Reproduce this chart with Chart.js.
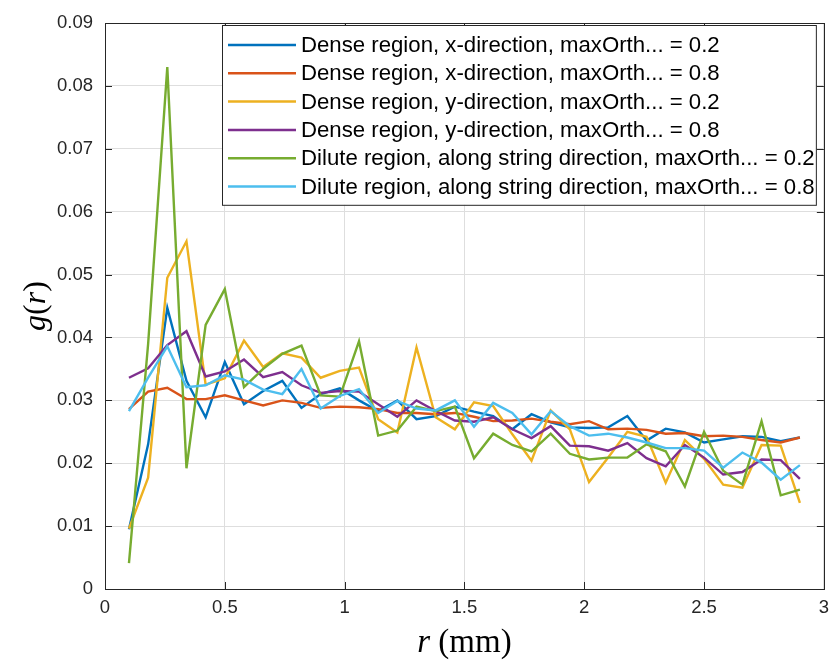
<!DOCTYPE html>
<html>
<head>
<meta charset="utf-8">
<script src="https://cdn.jsdelivr.net/npm/chart.js@4"></script>
<style>
  html, body { margin: 0; padding: 0; background: #fff; }
  #wrap { width: 837px; height: 661px; }
</style>
</head>
<body>
<div id="wrap"><canvas id="gr"></canvas></div>
<script>
// r values (mm) of the bins
const rValues = [0.1, 0.18, 0.26, 0.34, 0.42, 0.5, 0.58, 0.66, 0.74, 0.82, 0.9, 0.98,
  1.06, 1.14, 1.22, 1.3, 1.38, 1.46, 1.54, 1.62, 1.7, 1.78, 1.86, 1.94,
  2.02, 2.1, 2.18, 2.26, 2.34, 2.42, 2.5, 2.58, 2.66, 2.74, 2.82, 2.9];

// g(r) per case
const denseX02 = [0.0095, 0.023, 0.0447, 0.0331, 0.0273, 0.0361, 0.0294, 0.0315, 0.0331, 0.0288, 0.031, 0.0319,
  0.030, 0.0283, 0.030, 0.027, 0.0275, 0.029, 0.0282, 0.0275, 0.0254, 0.0278, 0.0265, 0.0257,
  0.0256, 0.0257, 0.0275, 0.0236, 0.0255, 0.0249, 0.0233, 0.0238, 0.0243, 0.0242, 0.0235, 0.0241];
const denseX08 = [0.0286, 0.0314, 0.032, 0.0302, 0.0302, 0.0308, 0.030, 0.0292, 0.030, 0.0296, 0.0288, 0.029,
  0.0289, 0.0286, 0.028, 0.028, 0.0278, 0.028, 0.0274, 0.0267, 0.0268, 0.0271, 0.0266, 0.0262,
  0.0267, 0.0254, 0.0255, 0.0253, 0.0247, 0.0248, 0.0243, 0.0244, 0.0242, 0.0237, 0.0233, 0.0241];
const denseY02 = [0.0096, 0.0177, 0.0495, 0.0553, 0.0325, 0.0335, 0.0395, 0.0353, 0.0375, 0.0368, 0.0336, 0.0347,
  0.0352, 0.027, 0.0249, 0.0384, 0.0273, 0.0254, 0.0297, 0.0291, 0.0246, 0.0204, 0.0284, 0.0254,
  0.017, 0.0209, 0.025, 0.0242, 0.0169, 0.0237, 0.0207, 0.0166, 0.0161, 0.0229, 0.0228, 0.0137];
const denseY08 = [0.0336, 0.0351, 0.0388, 0.041, 0.0338, 0.0346, 0.0365, 0.0337, 0.0345, 0.0324, 0.0312, 0.0315,
  0.0314, 0.0294, 0.0274, 0.030, 0.0283, 0.0268, 0.0266, 0.0273, 0.0254, 0.024, 0.0259, 0.0228,
  0.0227, 0.022, 0.0232, 0.0208, 0.0195, 0.0229, 0.0209, 0.0182, 0.0186, 0.0206, 0.0205, 0.0175];
const diluteS02 = [0.0041, 0.039, 0.083, 0.0192, 0.042, 0.0477, 0.0321, 0.035, 0.0374, 0.0387, 0.0308, 0.0306,
  0.0394, 0.0244, 0.0252, 0.029, 0.0283, 0.029, 0.0208, 0.0247, 0.0229, 0.0219, 0.0247, 0.0215,
  0.0206, 0.0209, 0.0209, 0.023, 0.0219, 0.0163, 0.025, 0.0188, 0.0166, 0.0267, 0.0149, 0.0158];
const diluteS08 = [0.0283, 0.0336, 0.0386, 0.0321, 0.0324, 0.034, 0.0333, 0.0317, 0.031, 0.035, 0.0287, 0.0307,
  0.0318, 0.028, 0.0299, 0.0287, 0.0284, 0.030, 0.0258, 0.0296, 0.028, 0.0246, 0.0283, 0.0259,
  0.0244, 0.0247, 0.0241, 0.0233, 0.0224, 0.0224, 0.022, 0.0193, 0.0217, 0.0201, 0.0174, 0.0197];

const seriesLabels = [
  'Dense region, x-direction, maxOrth... = 0.2',
  'Dense region, x-direction, maxOrth... = 0.8',
  'Dense region, y-direction, maxOrth... = 0.2',
  'Dense region, y-direction, maxOrth... = 0.8',
  'Dilute region, along string direction, maxOrth... = 0.2',
  'Dilute region, along string direction, maxOrth... = 0.8'
];
const seriesValues = [denseX02, denseX08, denseY02, denseY08, diluteS02, diluteS08];
const seriesColors = ['#0072BD', '#D95319', '#EDB120', '#7E2F8E', '#77AC30', '#4DBEEE'];

// tick labels
const xTicks = [0, 0.5, 1, 1.5, 2, 2.5, 3];
const yTicks = [0, 0.01, 0.02, 0.03, 0.04, 0.05, 0.06, 0.07, 0.08, 0.09];

const AXIS = '#262626';
const SANS = '"Liberation Sans", Arial, Helvetica, sans-serif';
const SERIF = '"Liberation Serif", "DejaVu Serif", serif';

// box, inward ticks, legend and axis titles in the MATLAB look
const matlabFrame = {
  id: 'matlabFrame',
  afterDatasetsDraw(chart) {
    const { ctx, chartArea: a, scales: { x, y } } = chart;
    ctx.save();
    ctx.strokeStyle = AXIS;
    ctx.lineWidth = 1;
    ctx.strokeRect(Math.round(a.left) + 0.5, Math.round(a.top) + 0.5,
      Math.round(a.right - a.left), Math.round(a.bottom - a.top));

    const tl = 7;
    ctx.beginPath();
    xTicks.forEach(v => {
      const px = Math.round(x.getPixelForValue(v)) + 0.5;
      ctx.moveTo(px, a.bottom); ctx.lineTo(px, a.bottom - tl);
      ctx.moveTo(px, a.top); ctx.lineTo(px, a.top + tl);
    });
    yTicks.forEach(v => {
      const py = Math.round(y.getPixelForValue(v)) + 0.5;
      ctx.moveTo(a.left, py); ctx.lineTo(a.left + tl, py);
      ctx.moveTo(a.right, py); ctx.lineTo(a.right - tl, py);
    });
    ctx.stroke();

    // legend
    const lx = 222, ly = 25, lw = a.right - 8 - lx, rowH = 28.3;
    const lh = rowH * seriesLabels.length + 10;
    ctx.fillStyle = '#fff';
    ctx.fillRect(lx, ly, lw, lh);
    ctx.strokeStyle = AXIS;
    ctx.lineWidth = 1;
    ctx.strokeRect(lx + 0.5, ly + 0.5, lw, lh);
    ctx.font = '22.2px ' + SANS;
    ctx.textBaseline = 'middle';
    ctx.textAlign = 'left';
    seriesLabels.forEach((label, i) => {
      const cy = ly + 20 + rowH * i;
      ctx.strokeStyle = seriesColors[i];
      ctx.lineWidth = 2.5;
      ctx.beginPath();
      ctx.moveTo(lx + 6, cy); ctx.lineTo(lx + 74, cy);
      ctx.stroke();
      ctx.fillStyle = '#000';
      ctx.fillText(label, lx + 79, cy + 1);
    });

    // axis titles: italic variables, upright units
    ctx.fillStyle = '#000';
    ctx.textBaseline = 'alphabetic';
    const drawParts = (segs, cx, baseY, size) => {
      const fontFor = it => (it ? 'italic ' : '') + size + 'px ' + SERIF;
      const ps = segs.map(([t, it]) => {
        ctx.font = fontFor(it);
        return { t, it, w: ctx.measureText(t).width };
      });
      let xx = cx - ps.reduce((s, p) => s + p.w, 0) / 2;
      ps.forEach(p => {
        ctx.font = fontFor(p.it);
        ctx.fillText(p.t, xx, baseY);
        xx += p.w;
      });
    };
    drawParts([['r', true], [' (mm)', false]], (a.left + a.right) / 2, 652, 33);
    ctx.save();
    ctx.translate(45, (a.top + a.bottom) / 2);
    ctx.rotate(-Math.PI / 2);
    drawParts([['g', true], ['(', false], ['r', true], [')', false]], 0, 0, 32);
    ctx.restore();

    ctx.restore();
  }
};

new Chart(document.getElementById('gr'), {
  type: 'line',
  data: {
    datasets: seriesValues.map((vals, i) => ({
      label: seriesLabels[i],
      data: rValues.map((r, k) => ({ x: r, y: vals[k] })),
      borderColor: seriesColors[i],
      backgroundColor: seriesColors[i],
      borderWidth: 2.4,
      pointRadius: 0,
      tension: 0,
      fill: false,
      order: seriesValues.length - 1 - i
    }))
  },
  options: {
    responsive: true,
    maintainAspectRatio: false,
    animation: false,
    layout: { padding: { left: 0, right: 6, top: 18, bottom: 0 } },
    plugins: { legend: { display: false }, tooltip: { enabled: false } },
    scales: {
      x: {
        type: 'linear',
        min: 0,
        max: 3,
        afterBuildTicks: s => { s.ticks = xTicks.map(v => ({ value: v })); },
        afterFit: s => { s.height = 72; },
        grid: { color: '#dedede', drawTicks: false, lineWidth: 1 },
        border: { display: false },
        ticks: {
          color: AXIS,
          font: { family: SANS, size: 18.5 },
          padding: 8,
          maxRotation: 0,
          callback: v => String(v)
        }
      },
      y: {
        min: 0,
        max: 0.09,
        afterBuildTicks: s => { s.ticks = yTicks.map(v => ({ value: v })); },
        afterFit: s => { s.width = 105; },
        grid: { color: '#dedede', drawTicks: false, lineWidth: 1 },
        border: { display: false },
        ticks: {
          color: AXIS,
          font: { family: SANS, size: 18.5 },
          padding: 12,
          callback: v => String(Number(v.toFixed(2)))
        }
      }
    }
  },
  plugins: [matlabFrame]
});
</script>
</body>
</html>
